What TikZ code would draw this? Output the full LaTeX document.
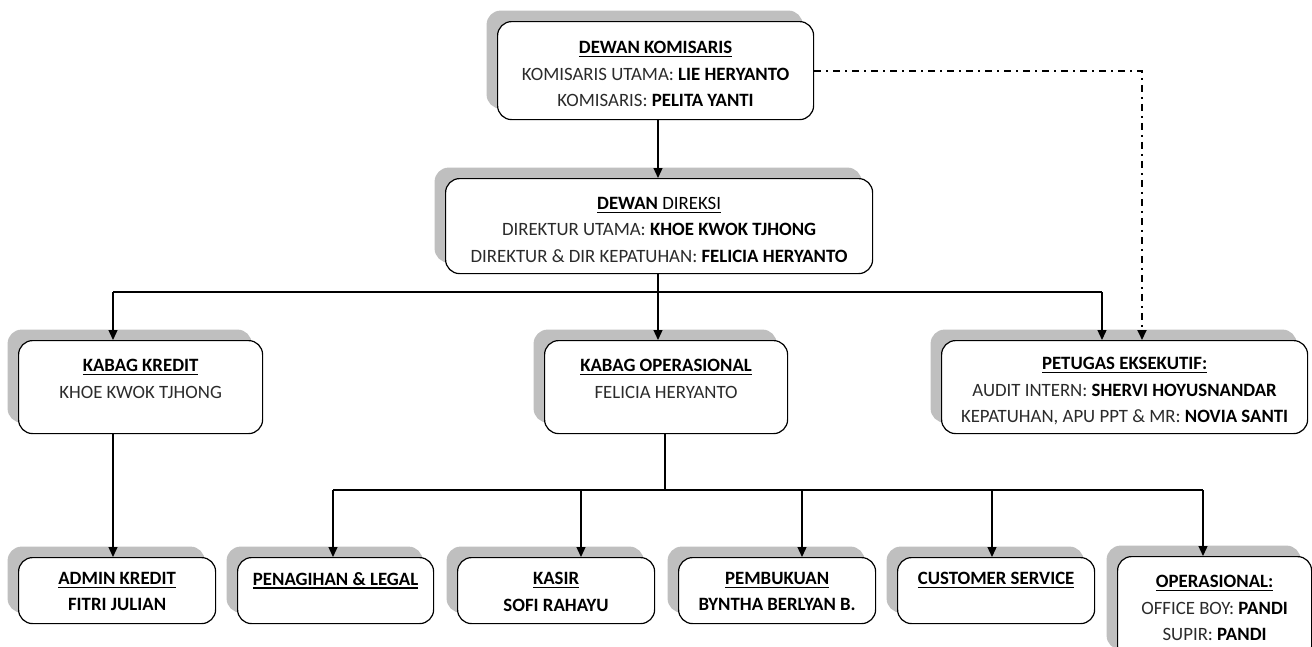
\documentclass[tikz,border=0pt]{standalone}
\usepackage{fontspec}
\setmainfont{Carlito}
\usetikzlibrary{arrows.meta,shadows,calc}
\definecolor{txt}{HTML}{2B2B2B}
\definecolor{shad}{HTML}{BFBFBF}
\newcommand\nm[1]{\textbf{\color{black}#1}}
\newcommand\ulx[1]{{\color{black}\setbox0\hbox{#1}\rlap{\vrule width\wd0 height -2.2pt depth 3.8pt}\box0}}
\newcommand\ttl[1]{\ulx{\bfseries #1}}
\begin{document}
\begin{tikzpicture}[x=1pt,y=-1pt,
  box/.style={draw=black, line width=1.2pt, rounded corners=14pt, fill=white, inner sep=0pt,
    anchor=north west, general shadow={fill=shad, shadow xshift=-11pt, shadow yshift=11pt}},
  lbl/.style={anchor=north, align=center, inner sep=0pt, font=\fontsize{18.8}{26.5}\selectfont, text=txt},
  line/.style={line width=1.3pt},
  conn/.style={line width=1.3pt, -{Triangle[length=10pt,width=9pt]}},
  dd/.style={line width=1.8pt, dash pattern=on 7pt off 5pt on 2pt off 5pt, -{Triangle[length=10pt,width=9pt]}}]
\useasboundingbox (0,0) rectangle (1312,646);
% boxes
\node[box, minimum width=316pt, minimum height=98pt] (kom) at (497,21) {};
\node[box, minimum width=427pt, minimum height=95pt] (dir) at (445,178) {};
\node[box, minimum width=244pt, minimum height=93pt] (kkr) at (18,340) {};
\node[box, minimum width=243pt, minimum height=93pt] (kop) at (544,340) {};
\node[box, minimum width=366pt, minimum height=93pt] (pet) at (941,340) {};
\node[box, minimum width=197pt, minimum height=66pt] (adm) at (18,557) {};
\node[box, minimum width=196pt, minimum height=66pt] (pen) at (237,557) {};
\node[box, minimum width=197pt, minimum height=66pt] (kas) at (457,557) {};
\node[box, minimum width=197pt, minimum height=66pt] (pem) at (678,557) {};
\node[box, minimum width=197pt, minimum height=66pt] (cs) at (897,557) {};
\node[box, minimum width=194pt, minimum height=104pt] (ops) at (1117,556) {};
% texts
\node[lbl] (komt) at ($(kom.north)+(0,20)$) {\ttl{DEWAN KOMISARIS}\\KOMISARIS UTAMA: \nm{LIE HERYANTO}\\KOMISARIS: \nm{PELITA YANTI}};
\node[lbl] (dirt) at ($(dir.north)+(0,19)$) {\ulx{\textbf{DEWAN} DIREKSI}\\DIREKTUR UTAMA: \nm{KHOE KWOK TJHONG}\\DIREKTUR \& DIR KEPATUHAN: \nm{FELICIA HERYANTO}};
\node[lbl] (kkrt) at ($(kkr.north)+(0,19)$) {\ttl{KABAG KREDIT}\\KHOE KWOK TJHONG};
\node[lbl] (kopt) at ($(kop.north)+(0,19)$) {\ttl{KABAG OPERASIONAL}\\FELICIA HERYANTO};
\node[lbl] (pett) at ($(pet.north)+(0,17)$) {\ttl{PETUGAS EKSEKUTIF:}\\AUDIT INTERN: \nm{SHERVI HOYUSNANDAR}\\KEPATUHAN, APU PPT \& MR: \nm{NOVIA SANTI}};
\node[lbl] (admt) at ($(adm.north)+(0,15)$) {\ttl{ADMIN KREDIT}\\\nm{FITRI JULIAN}};
\node[lbl] (pent) at ($(pen.north)+(0,15)$) {\ttl{PENAGIHAN \& LEGAL}};
\node[lbl] (kast) at ($(kas.north)+(0,15)$) {\ttl{KASIR}\\\nm{SOFI RAHAYU}};
\node[lbl] (pemt) at ($(pem.north)+(0,15)$) {\ttl{PEMBUKUAN}\\\nm{BYNTHA BERLYAN B.}};
\node[lbl] (cst) at ($(cs.north)+(0,15)$) {\ttl{CUSTOMER SERVICE}};
\node[lbl] (opst) at ($(ops.north)+(0,19)$) {\ttl{OPERASIONAL:}\\OFFICE BOY: \nm{PANDI}\\SUPIR: \nm{PANDI}};
% column / bus coordinates
\coordinate (cA) at (658,0);
\coordinate (cL) at (113,0);
\coordinate (cR) at (1102,0);
\coordinate (cD) at (1142,0);
\coordinate (cK) at (665,0);
\coordinate (c1) at (333,0);
\coordinate (c2) at (581,0);
\coordinate (c3) at (802,0);
\coordinate (c4) at (992,0);
\coordinate (c5) at (1203,0);
\coordinate (bus1) at (0,292);
\coordinate (bus2) at (0,490);
% connectors
\draw[conn] (kom.south -| cA) -- (dir.north -| cA);
\draw[line] (dir.south -| cA) -- (bus1 -| cA);
\draw[line] (bus1 -| cL) -- (bus1 -| cR);
\draw[conn] (bus1 -| cL) -- (kkr.north -| cL);
\draw[conn] (bus1 -| cA) -- (kop.north -| cA);
\draw[conn] (bus1 -| cR) -- (pet.north -| cR);
\draw[dd] (kom.east) -| (pet.north -| cD);
\draw[conn] (kkr.south -| cL) -- (adm.north -| cL);
\draw[line] (kop.south -| cK) -- (bus2 -| cK);
\draw[line] (bus2 -| c1) -- (bus2 -| c5);
\draw[conn] (bus2 -| c1) -- (pen.north -| c1);
\draw[conn] (bus2 -| c2) -- (kas.north -| c2);
\draw[conn] (bus2 -| c3) -- (pem.north -| c3);
\draw[conn] (bus2 -| c4) -- (cs.north -| c4);
\draw[conn] (bus2 -| c5) -- (ops.north -| c5);
\end{tikzpicture}
\end{document}
